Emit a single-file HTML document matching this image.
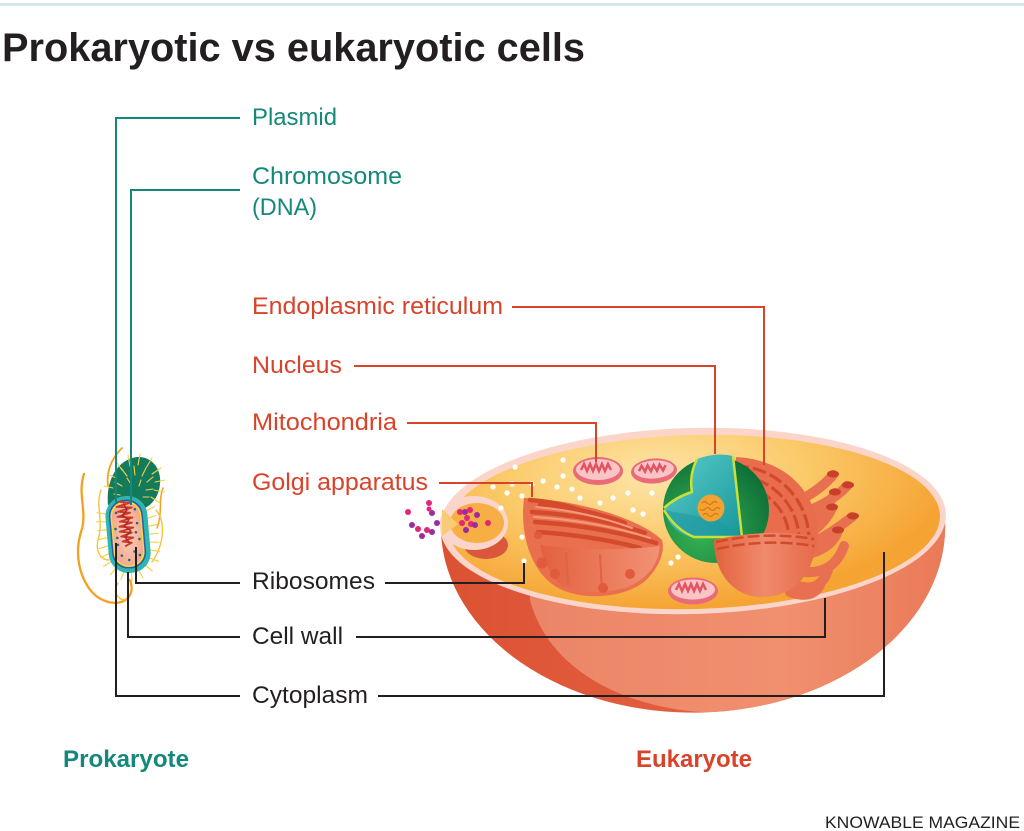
<!DOCTYPE html>
<html><head><meta charset="utf-8">
<style>
html,body{margin:0;padding:0;background:#fff;}
svg{display:block;}
text{font-family:"Liberation Sans",Arial,sans-serif;}
</style></head><body>
<svg width="1024" height="831" viewBox="0 0 1024 831" xmlns="http://www.w3.org/2000/svg">
<defs>
  <radialGradient id="inG" cx="0" cy="0" r="1" gradientUnits="userSpaceOnUse" gradientTransform="translate(655 475) scale(300 135)">
    <stop offset="0" stop-color="#fde5a8"/>
    <stop offset="0.5" stop-color="#fbca6a"/>
    <stop offset="1" stop-color="#f5a332"/>
  </radialGradient>
  <linearGradient id="bowlG" x1="441" y1="0" x2="945" y2="0" gradientUnits="userSpaceOnUse">
    <stop offset="0" stop-color="#dc5233"/>
    <stop offset="1" stop-color="#e66b4b"/>
  </linearGradient>
  <linearGradient id="lensG" x1="540" y1="0" x2="945" y2="0" gradientUnits="userSpaceOnUse">
    <stop offset="0" stop-color="#ec8567"/>
    <stop offset="0.6" stop-color="#f0906f"/>
    <stop offset="1" stop-color="#ea7a58"/>
  </linearGradient>
  <clipPath id="bowlClip"><path d="M441,533 A252,186 0 0 0 945,520 Z"/></clipPath>
  <radialGradient id="nucG" cx="0.35" cy="0.7" r="0.75">
    <stop offset="0" stop-color="#38b454"/>
    <stop offset="1" stop-color="#0e6f38"/>
  </radialGradient>
  <linearGradient id="tealG" x1="0" y1="0" x2="1" y2="1">
    <stop offset="0" stop-color="#5ccdcb"/>
    <stop offset="1" stop-color="#16969a"/>
  </linearGradient>
  <linearGradient id="domeG" x1="0" y1="0" x2="1" y2="0">
    <stop offset="0" stop-color="#e2623f"/>
    <stop offset="0.5" stop-color="#f08a6b"/>
    <stop offset="1" stop-color="#e56a4a"/>
  </linearGradient>
  <linearGradient id="golG" x1="0" y1="0" x2="1" y2="0">
    <stop offset="0" stop-color="#e2603f"/>
    <stop offset="1" stop-color="#f29274"/>
  </linearGradient>
  <radialGradient id="peachG" cx="0.5" cy="0.5" r="0.6">
    <stop offset="0" stop-color="#fbd2c0"/>
    <stop offset="1" stop-color="#f4a488"/>
  </radialGradient>
</defs>

<!-- top rule -->
<rect x="0" y="3" width="1024" height="3" fill="#d7e8ea"/>

<!-- title -->
<text x="2" y="61" font-size="40" font-weight="bold" fill="#231f20" textLength="583" lengthAdjust="spacingAndGlyphs">Prokaryotic vs eukaryotic cells</text>

<!-- teal labels -->
<g font-size="24" fill="#14887b">
  <text x="252" y="125" textLength="85" lengthAdjust="spacingAndGlyphs">Plasmid</text>
  <text x="252" y="184" textLength="150" lengthAdjust="spacingAndGlyphs">Chromosome</text>
  <text x="252" y="215" textLength="65" lengthAdjust="spacingAndGlyphs">(DNA)</text>
</g>
<!-- red labels -->
<g font-size="24" fill="#d8432a">
  <text x="252" y="314" textLength="251" lengthAdjust="spacingAndGlyphs">Endoplasmic reticulum</text>
  <text x="252" y="373" textLength="90" lengthAdjust="spacingAndGlyphs">Nucleus</text>
  <text x="252" y="430" textLength="145" lengthAdjust="spacingAndGlyphs">Mitochondria</text>
  <text x="252" y="490" textLength="176" lengthAdjust="spacingAndGlyphs">Golgi apparatus</text>
</g>
<!-- black labels -->
<g font-size="24" fill="#231f20">
  <text x="252" y="589" textLength="123" lengthAdjust="spacingAndGlyphs">Ribosomes</text>
  <text x="252" y="644" textLength="91" lengthAdjust="spacingAndGlyphs">Cell wall</text>
  <text x="252" y="703" textLength="116" lengthAdjust="spacingAndGlyphs">Cytoplasm</text>
</g>
<text x="63" y="767" font-size="24" font-weight="bold" fill="#14887b" textLength="126" lengthAdjust="spacingAndGlyphs">Prokaryote</text>
<text x="636" y="767" font-size="24" font-weight="bold" fill="#d8432a" textLength="116" lengthAdjust="spacingAndGlyphs">Eukaryote</text>
<text x="825" y="828" font-size="17" fill="#231f20" textLength="195" lengthAdjust="spacingAndGlyphs">KNOWABLE MAGAZINE</text>

<!-- ============ PROKARYOTE ============ -->
<g fill="none" stroke-linecap="round">
  <path d="M84,474 C77,495 88,512 81,532 C74,555 80,578 92,592 C103,604 120,606 128,598 C133,592 132,586 130,580" stroke="#f5a020" stroke-width="2.3"/>
  <path d="M122,448 C112,458 106,470 108,486" stroke="#f5a020" stroke-width="1.8"/>
  <path d="M101,490 C95,506 104,520 98,540 C95,553 102,560 109,560" stroke="#f7c33a" stroke-width="1.4"/>
  <path d="M163,488 C158,500 163,512 157,528" stroke="#f5a020" stroke-width="1.5"/>
  <path d="M156,510 C166,522 164,545 152,562" stroke="#f7c33a" stroke-width="1.4"/>
  <path d="M118,583 C112,592 118,600 126,600" stroke="#f7c33a" stroke-width="1.4"/>
</g>
<!-- green cap -->
<path d="M108,505 C106,484 114,464 132,458 C149,453 162,467 160,484 C159,497 151,507 140,510 Z" fill="#137b5c"/>
<g stroke="#f5d040" stroke-width="1.1" stroke-linecap="round">
  <line x1="122" y1="470" x2="116" y2="461"/><line x1="130" y1="466" x2="128" y2="455"/>
  <line x1="138" y1="465" x2="140" y2="454"/><line x1="146" y1="468" x2="152" y2="458"/>
  <line x1="152" y1="474" x2="161" y2="468"/><line x1="155" y1="482" x2="165" y2="480"/>
  <line x1="154" y1="490" x2="164" y2="492"/><line x1="151" y1="497" x2="160" y2="503"/>
  <line x1="116" y1="478" x2="107" y2="474"/><line x1="113" y1="488" x2="104" y2="486"/>
  <line x1="127" y1="476" x2="121" y2="468"/><line x1="135" y1="475" x2="134" y2="466"/>
  <line x1="142" y1="476" x2="146" y2="468"/><line x1="147" y1="482" x2="153" y2="477"/>
  <line x1="146" y1="490" x2="153" y2="489"/><line x1="122" y1="486" x2="115" y2="482"/>
  <line x1="131" y1="484" x2="127" y2="478"/><line x1="139" y1="486" x2="141" y2="480"/>
  <line x1="120" y1="495" x2="114" y2="494"/><line x1="143" y1="497" x2="149" y2="497"/>
</g>
<!-- body -->
<g transform="rotate(-5 128 534)">
  <g stroke="#f5d040" stroke-width="1.1" stroke-linecap="round">
    <line x1="107" y1="512" x2="99" y2="510"/><line x1="107" y1="520" x2="98" y2="519"/>
    <line x1="107" y1="528" x2="98" y2="528"/><line x1="107" y1="536" x2="98" y2="537"/>
    <line x1="107" y1="544" x2="98" y2="546"/><line x1="107" y1="552" x2="99" y2="555"/>
    <line x1="109" y1="560" x2="101" y2="564"/><line x1="113" y1="567" x2="107" y2="573"/>
    <line x1="120" y1="572" x2="117" y2="579"/><line x1="128" y1="573" x2="128" y2="581"/>
    <line x1="136" y1="572" x2="139" y2="579"/><line x1="143" y1="567" x2="149" y2="573"/>
    <line x1="148" y1="560" x2="156" y2="564"/><line x1="149" y1="552" x2="158" y2="554"/>
    <line x1="149" y1="544" x2="158" y2="545"/><line x1="149" y1="536" x2="158" y2="536"/>
    <line x1="149" y1="528" x2="158" y2="527"/><line x1="149" y1="520" x2="157" y2="518"/>
    <line x1="149" y1="512" x2="157" y2="509"/>
  </g>
  <rect x="107" y="496" width="42" height="77" rx="20" fill="#2fb5b2"/>
  <rect x="110.5" y="499.5" width="34" height="69" rx="16" fill="#2c5ca6"/>
  <rect x="112" y="501" width="31" height="66" rx="15" fill="#f6d840"/>
  <rect x="113.5" y="502.5" width="28" height="63" rx="14" fill="url(#peachG)"/>
  <path d="M121,501 L133,503 L119,506 L134,508 L120,511 L132,513 L119,516 L134,518 L121,521 L133,523 L120,526 L134,528 L120,531 L132,533 L121,536 L133,538 L122,541 L131,543 L124,546" fill="none" stroke="#c8382c" stroke-width="1.8" stroke-linejoin="round"/>
  <path d="M126,503 L129,510 L124,515 L130,520 L125,526 L131,531 L125,537 L129,543" fill="none" stroke="#a82620" stroke-width="1.3"/>
  <g fill="#24687a">
    <circle cx="118" cy="512" r="1.3"/><circle cx="137" cy="510" r="1.3"/><circle cx="116" cy="528" r="1.3"/>
    <circle cx="138" cy="524" r="1.3"/><circle cx="117" cy="544" r="1.3"/><circle cx="139" cy="540" r="1.3"/>
    <circle cx="120" cy="555" r="1.3"/><circle cx="133" cy="552" r="1.3"/><circle cx="127" cy="560" r="1.3"/>
    <circle cx="138" cy="556" r="1.3"/><circle cx="117" cy="537" r="1.3"/><circle cx="136" cy="533" r="1.3"/>
  </g>
</g>

<!-- ============ EUKARYOTE ============ -->
<!-- bowl exterior -->
<path d="M441,533 A252,186 0 0 0 945,520 Z" fill="url(#bowlG)"/>
<g clip-path="url(#bowlClip)">
  <path d="M530,600 C548,668 620,706 700,712 L960,712 L960,500 L530,500 Z" fill="url(#lensG)"/>
</g>
<!-- rim and interior -->
<g transform="rotate(-1.5 693 521)">
  <ellipse cx="693" cy="521" rx="253" ry="93" fill="#fcd5ca"/>
  <ellipse cx="694" cy="522" rx="246" ry="87" fill="url(#inG)"/>
</g>

<!-- pocket -->
<ellipse cx="486" cy="545" rx="22" ry="14" fill="#d9573b"/>
<ellipse cx="474" cy="523" rx="34" ry="27" fill="#fcd5ca"/>
<ellipse cx="477" cy="523" rx="27" ry="20" fill="#f7ae44"/>
<path d="M442,509 L458,524 L442,536 Z" fill="#f9cb74"/>
<g>
  <circle cx="460" cy="512" r="3" fill="#e2267a"/><circle cx="465" cy="512" r="3" fill="#9a2d9e"/>
  <circle cx="470" cy="510" r="3" fill="#e2267a"/><circle cx="477" cy="515" r="3" fill="#9a2d9e"/>
  <circle cx="467" cy="518" r="3" fill="#e2267a"/><circle cx="462" cy="523" r="3" fill="#e2267a"/>
  <circle cx="471" cy="524" r="3" fill="#e2267a"/><circle cx="475" cy="525" r="3" fill="#9a2d9e"/>
  <circle cx="466" cy="530" r="3" fill="#9a2d9e"/><circle cx="488" cy="523" r="3" fill="#e2267a"/>
  <circle cx="429" cy="503" r="3" fill="#e2267a"/><circle cx="408" cy="512" r="3" fill="#e2267a"/>
  <circle cx="432" cy="513" r="3" fill="#9a2d9e"/><circle cx="412" cy="525" r="3" fill="#9a2d9e"/>
  <circle cx="418" cy="529" r="3" fill="#e2267a"/><circle cx="427" cy="530" r="3" fill="#e2267a"/>
  <circle cx="432" cy="532" r="3" fill="#9a2d9e"/><circle cx="422" cy="536" r="3" fill="#9a2d9e"/>
  <circle cx="437" cy="523" r="3" fill="#9a2d9e"/><circle cx="429" cy="509" r="2.5" fill="#e2267a"/>
</g>

<!-- white ribosome dots -->
<g fill="#fff">
  <circle cx="515" cy="467" r="2.6"/><circle cx="563" cy="460" r="2.6"/><circle cx="563" cy="476" r="2.6"/>
  <circle cx="543" cy="481" r="2.6"/><circle cx="557" cy="487" r="2.6"/><circle cx="572" cy="489" r="2.6"/>
  <circle cx="580" cy="498" r="2.6"/><circle cx="600" cy="503" r="2.6"/><circle cx="613" cy="498" r="2.6"/>
  <circle cx="628" cy="493" r="2.6"/><circle cx="652" cy="493" r="2.6"/><circle cx="633" cy="510" r="2.6"/>
  <circle cx="643" cy="514" r="2.6"/><circle cx="493" cy="487" r="2.6"/><circle cx="507" cy="493" r="2.6"/>
  <circle cx="522" cy="496" r="2.6"/><circle cx="512" cy="484" r="2.6"/><circle cx="532" cy="484" r="2.6"/>
  <circle cx="528" cy="516" r="2.6"/><circle cx="522" cy="537" r="2.6"/><circle cx="524" cy="561" r="2.6"/>
  <circle cx="671" cy="563" r="2.6"/><circle cx="678" cy="557" r="2.6"/><circle cx="501" cy="508" r="2.6"/>
</g>

<!-- golgi -->
<path d="M524,498 C519,540 534,576 560,589 C585,601 625,598 645,581 C660,567 665,551 662,540 C640,519 580,500 524,498 Z" fill="#ea6f4f"/>
<g fill="none" stroke="#d44a2c" stroke-width="4.5" stroke-linecap="round">
  <path d="M530,500 Q565,503 590,514"/>
  <path d="M540,505 Q585,508 625,523"/>
  <path d="M532,512 Q595,516 645,533"/>
  <path d="M535,522 Q600,526 656,543"/>
  <path d="M538,532 Q595,536 640,548"/>
</g>
<g fill="none" stroke="#f49a7c" stroke-width="2" stroke-linecap="round">
  <path d="M536,507 Q585,511 632,528"/>
  <path d="M534,517 Q597,521 650,538"/>
</g>
<path d="M540,545 Q600,553 660,546 Q657,576 625,588 Q590,597 562,586 Q546,572 540,545 Z" fill="url(#golG)"/>
<g stroke="#de6244" stroke-width="2">
  <line x1="566" y1="552" x2="568" y2="585"/><line x1="600" y1="554" x2="602" y2="592"/>
</g>
<g fill="#e05a3c">
  <circle cx="542" cy="563" r="5.5"/><circle cx="555" cy="574" r="5"/>
  <circle cx="603" cy="588" r="5"/><circle cx="630" cy="574" r="5"/><circle cx="538" cy="535" r="4"/>
</g>

<!-- mitochondria -->
<g transform="translate(598,471)">
  <ellipse rx="25" ry="14" fill="#ea6b78"/>
  <ellipse cy="-1.5" rx="22" ry="10.5" fill="#fbc5c5"/>
  <path d="M-17,-1 l3,-6 l3,7 l3,-7 l3,7 l3,-7 l3,7 l3,-7 l3,7 l3,-7 l3,6" fill="none" stroke="#e25462" stroke-width="2.5"/>
</g>
<g transform="translate(654,471) rotate(-4)">
  <ellipse rx="23" ry="12.5" fill="#ea6b78"/>
  <ellipse cy="-1.5" rx="20" ry="9" fill="#fbc5c5"/>
  <path d="M-15,-1 l3,-5 l3,6 l3,-6 l3,6 l3,-6 l3,6 l3,-6 l3,6 l3,-5" fill="none" stroke="#e25462" stroke-width="2.5"/>
</g>
<g transform="translate(693,591)">
  <ellipse rx="25" ry="13.5" fill="#ea6b78"/>
  <ellipse cy="-1.5" rx="22" ry="10" fill="#fbc5c5"/>
  <path d="M-17,-1 l3,-6 l3,7 l3,-7 l3,7 l3,-7 l3,7 l3,-7 l3,7 l3,-7 l3,6" fill="none" stroke="#e25462" stroke-width="2.5"/>
</g>

<!-- ER back + tubes -->
<g fill="none" stroke="#e87050" stroke-width="10" stroke-linecap="round">
  <path d="M800,500 Q820,490 833,475"/>
  <path d="M805,512 Q832,502 847,486"/>
  <path d="M808,522 Q826,511 835,493"/>
  <path d="M810,533 Q826,522 832,508"/>
  <path d="M812,543 Q832,533 852,517"/>
  <path d="M812,553 Q832,547 838,531"/>
  <path d="M795,585 Q820,594 828,570"/>
  <path d="M805,572 Q834,574 844,546"/>
  <path d="M790,592 Q812,600 820,585"/>
</g>
<g fill="#c9402a">
  <ellipse cx="833" cy="474" rx="6" ry="3.5"/><ellipse cx="848" cy="485" rx="6" ry="3.5"/>
  <ellipse cx="835" cy="492" rx="6" ry="3.5"/><ellipse cx="832" cy="507" rx="6" ry="3.5"/>
  <ellipse cx="853" cy="516" rx="6" ry="3.5"/><ellipse cx="838" cy="530" rx="6" ry="3.5"/>
</g>
<path d="M736,457 C792,460 823,500 818,548 L728,548 Z" fill="#e96d4d"/>
<g fill="none" stroke="#d24a2e" stroke-width="3.2" stroke-dasharray="14 4">
  <path d="M735,466 A74,74 0 0 1 809,540"/>
  <path d="M738,476 A64,64 0 0 1 799,540"/>
  <path d="M742,486 A54,54 0 0 1 789,540"/>
</g>

<!-- nucleus -->
<circle cx="716" cy="510" r="53" fill="url(#nucG)"/>
<path d="M697,459 Q716,452 733,456 L742,537 L690,537 Q668,530 664,508 Q676,497 692,492 Q689,475 697,459 Z" fill="url(#tealG)"/>
<path d="M664,510 Q676,530 694,537 L742,537 L718,520 Z" fill="#1f9aa0" opacity="0.6"/>
<g fill="none" stroke="#c9e03a" stroke-width="2.5" stroke-linejoin="round">
  <path d="M733,456 L742,537"/>
  <path d="M697,459 Q689,475 692,492 Q676,497 664,508"/>
  <path d="M664,510 Q676,530 694,537 L742,537"/>
</g>
<circle cx="711" cy="508" r="13.5" fill="#f2a232"/>
<g fill="none" stroke="#d9780e" stroke-width="1.2">
  <path d="M702,503 q3,-3 5,0 q3,3 5,0 q3,-3 5,0"/>
  <path d="M700,509 q3,3 5,0 q3,-3 5,0 q3,3 5,0 q3,-3 5,0"/>
  <path d="M703,515 q3,-3 5,0 q3,3 5,0 q3,-3 5,0"/>
</g>

<!-- ER front dome -->
<path d="M714,540 Q765,528 816,536 C816,575 792,597 762,597 C734,597 714,574 714,540 Z" fill="url(#domeG)"/>
<g fill="none" stroke="#d24a2e" stroke-width="2.5" stroke-dasharray="12 4">
  <path d="M716,542 Q765,531 814,539"/>
  <path d="M717,549 Q765,538 814,546"/>
</g>

<!-- ============ CONNECTOR LINES ============ -->
<g fill="none" stroke="#14887b" stroke-width="2">
  <path d="M240,118 L116,118 L116,503"/>
  <path d="M240,190 L131,190 L131,505"/>
</g>
<g fill="none" stroke="#d8432a" stroke-width="2">
  <path d="M512,307 L764,307 L764,465"/>
  <path d="M354,366 L715,366 L715,454"/>
  <path d="M407,423 L596,423 L596,462"/>
  <path d="M439,483 L532,483 L532,497"/>
</g>
<g fill="none" stroke="#231f20" stroke-width="2">
  <path d="M240,583 L136,583 L136,547"/>
  <path d="M240,637 L128,637 L128,572"/>
  <path d="M240,696 L116,696 L116,543"/>
  <path d="M385,583 L524,583 L524,563"/>
  <path d="M356,637 L825,637 L825,598"/>
  <path d="M378,696 L884,696 L884,552"/>
</g>
</svg>
</body></html>
